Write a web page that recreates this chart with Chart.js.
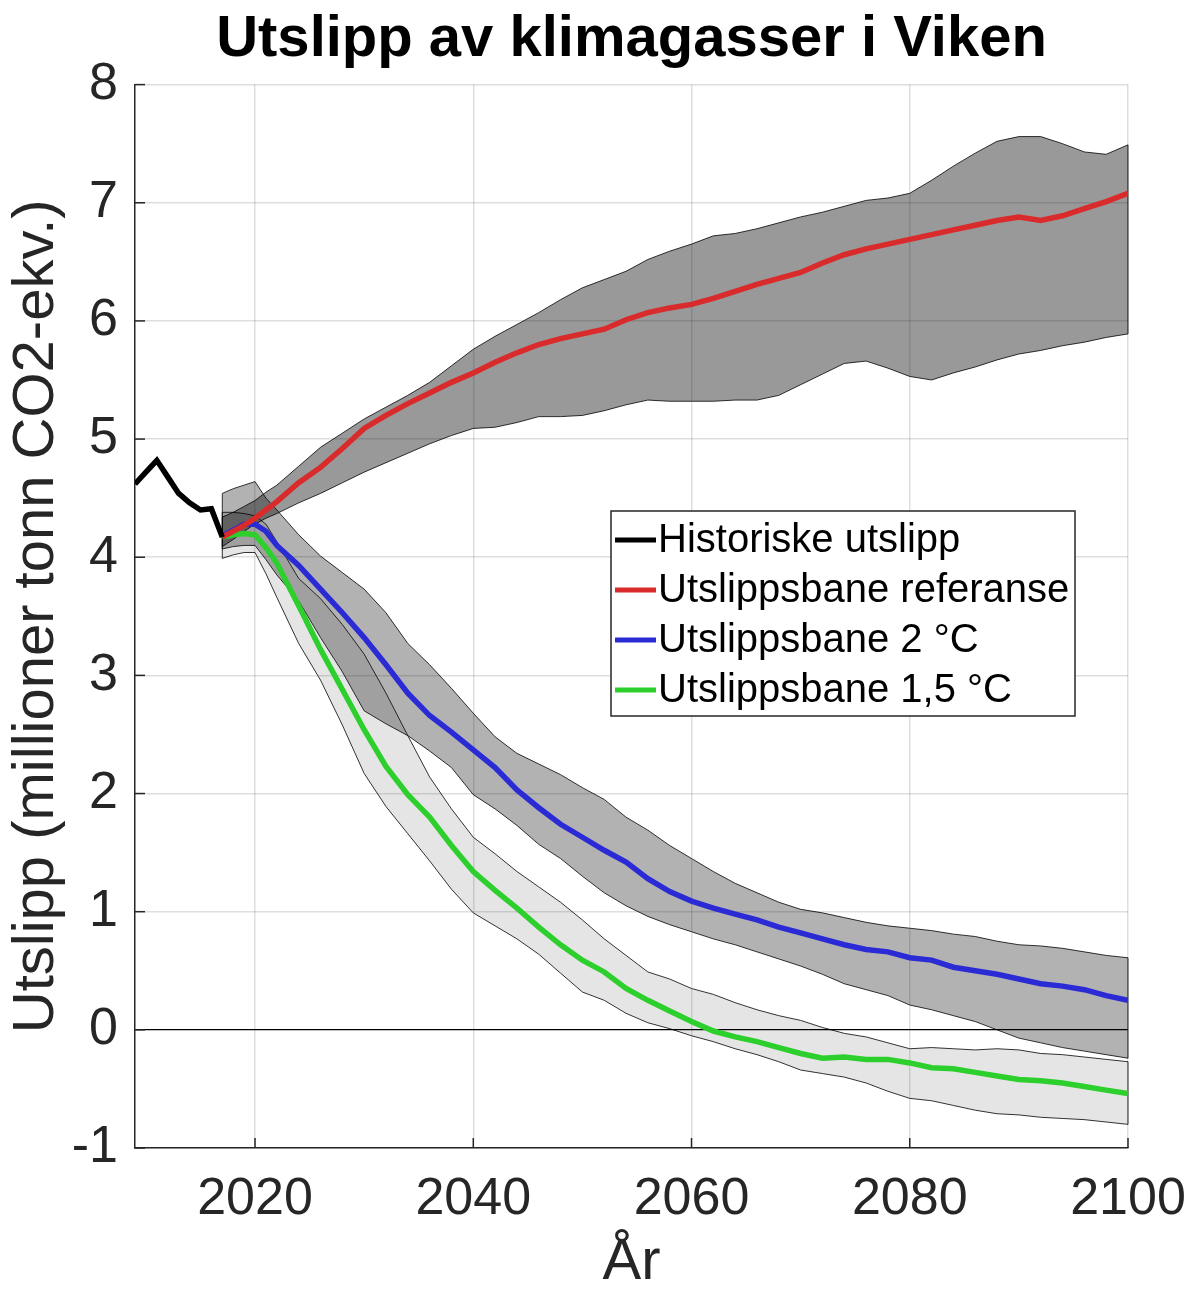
<!DOCTYPE html>
<html>
<head>
<meta charset="utf-8">
<title>Utslipp av klimagasser i Viken</title>
<script src="https://cdn.jsdelivr.net/npm/chart.js@4.4.1/dist/chart.umd.min.js"></script>
<style>
  html, body { margin: 0; padding: 0; background: #fff; }
  #wrap { width: 1188px; height: 1289px; }
</style>
</head>
<body>
<div id="wrap"><canvas id="chart" width="1188" height="1289"></canvas></div>
<script>
// historical emissions (mill. tonn CO2-ekv.)
const histYears = [2009, 2010, 2011, 2012, 2013, 2014, 2015, 2016, 2017];
const histValues = [4.62, 4.72, 4.82, 4.68, 4.54, 4.46, 4.40, 4.41, 4.17];

// years shared by all scenario series
const projYears = [2017, 2018, 2019, 2020, 2021, 2022, 2024, 2026, 2028, 2030, 2032, 2034, 2036, 2038,
  2040, 2042, 2044, 2046, 2048, 2050, 2052, 2054, 2056, 2058, 2060, 2062, 2064, 2066, 2068, 2070,
  2072, 2074, 2076, 2078, 2080, 2082, 2084, 2086, 2088, 2090, 2092, 2094, 2096, 2098, 2100];

// reference path
const refMid = [4.17, 4.22, 4.27, 4.33, 4.40, 4.47, 4.63, 4.76, 4.92, 5.09, 5.20, 5.30, 5.39, 5.48,
  5.56, 5.65, 5.73, 5.80, 5.85, 5.89, 5.93, 6.01, 6.07, 6.11, 6.14, 6.19, 6.25, 6.31, 6.36, 6.41,
  6.49, 6.56, 6.61, 6.65, 6.69, 6.73, 6.77, 6.81, 6.85, 6.88, 6.85, 6.89, 6.95, 7.01, 7.08];
const refHigh = [4.34, 4.38, 4.43, 4.48, 4.55, 4.61, 4.77, 4.93, 5.05, 5.17, 5.27, 5.37, 5.48, 5.62,
  5.76, 5.87, 5.97, 6.07, 6.18, 6.28, 6.35, 6.42, 6.52, 6.59, 6.65, 6.72, 6.74, 6.78, 6.83, 6.88,
  6.92, 6.97, 7.02, 7.04, 7.08, 7.19, 7.31, 7.42, 7.52, 7.56, 7.56, 7.50, 7.43, 7.41, 7.49];
const refLow = [4.09, 4.15, 4.22, 4.28, 4.33, 4.37, 4.46, 4.54, 4.63, 4.72, 4.80, 4.88, 4.96, 5.03,
  5.09, 5.10, 5.14, 5.19, 5.19, 5.20, 5.24, 5.29, 5.33, 5.32, 5.32, 5.32, 5.33, 5.33, 5.37, 5.46,
  5.55, 5.64, 5.66, 5.60, 5.53, 5.50, 5.56, 5.61, 5.67, 5.72, 5.75, 5.79, 5.82, 5.86, 5.89];

// 2 °C path
const twoMid = [4.18, 4.23, 4.28, 4.28, 4.22, 4.10, 3.93, 3.73, 3.53, 3.32, 3.09, 2.85, 2.66, 2.52,
  2.37, 2.22, 2.03, 1.88, 1.74, 1.63, 1.52, 1.42, 1.28, 1.17, 1.09, 1.03, 0.98, 0.93, 0.87, 0.82,
  0.77, 0.72, 0.68, 0.66, 0.61, 0.59, 0.53, 0.50, 0.47, 0.43, 0.39, 0.37, 0.34, 0.29, 0.25];
const twoHigh = [4.54, 4.58, 4.61, 4.64, 4.50, 4.40, 4.19, 4.01, 3.87, 3.73, 3.53, 3.27, 3.09, 2.89,
  2.68, 2.48, 2.34, 2.25, 2.16, 2.05, 1.95, 1.80, 1.69, 1.56, 1.45, 1.34, 1.24, 1.16, 1.08, 1.02,
  0.99, 0.95, 0.91, 0.88, 0.86, 0.84, 0.81, 0.79, 0.75, 0.72, 0.71, 0.69, 0.66, 0.63, 0.61];
const twoLow = [4.07, 4.09, 4.10, 4.10, 3.98, 3.85, 3.63, 3.32, 3.03, 2.70, 2.59, 2.49, 2.36, 2.22,
  1.99, 1.87, 1.73, 1.57, 1.45, 1.30, 1.16, 1.05, 0.96, 0.89, 0.83, 0.77, 0.72, 0.66, 0.60, 0.54,
  0.47, 0.39, 0.34, 0.29, 0.21, 0.17, 0.12, 0.07, 0.00, -0.07, -0.11, -0.15, -0.18, -0.21, -0.24];

// 1,5 °C path
const oneMid = [4.17, 4.19, 4.20, 4.19, 4.08, 3.95, 3.59, 3.22, 2.88, 2.54, 2.23, 1.99, 1.80, 1.56,
  1.34, 1.18, 1.03, 0.87, 0.72, 0.59, 0.49, 0.35, 0.25, 0.16, 0.07, -0.01, -0.06, -0.10, -0.15, -0.20,
  -0.24, -0.23, -0.25, -0.25, -0.28, -0.32, -0.33, -0.36, -0.39, -0.42, -0.43, -0.45, -0.48, -0.51, -0.54];
const oneHigh = [4.38, 4.38, 4.37, 4.35, 4.28, 4.13, 3.82, 3.65, 3.43, 3.18, 2.85, 2.49, 2.14, 1.87,
  1.63, 1.49, 1.34, 1.21, 1.08, 0.93, 0.77, 0.63, 0.49, 0.43, 0.35, 0.30, 0.23, 0.17, 0.12, 0.08,
  0.02, -0.03, -0.06, -0.11, -0.16, -0.15, -0.16, -0.17, -0.16, -0.17, -0.20, -0.21, -0.23, -0.25, -0.27];
const oneLow = [3.99, 4.02, 4.04, 4.04, 3.86, 3.66, 3.27, 2.96, 2.58, 2.17, 1.89, 1.66, 1.43, 1.19,
  0.99, 0.88, 0.77, 0.64, 0.48, 0.32, 0.25, 0.14, 0.06, 0.01, -0.05, -0.10, -0.16, -0.21, -0.27, -0.34,
  -0.37, -0.40, -0.45, -0.52, -0.58, -0.60, -0.64, -0.68, -0.71, -0.72, -0.74, -0.75, -0.76, -0.78, -0.80];

const xTickValues = [2020, 2040, 2060, 2080, 2100];
const yTickValues = [-1, 0, 1, 2, 3, 4, 5, 6, 7, 8];

const FONT = '"Liberation Sans", Arial, sans-serif';
const AXIS_COLOR = '#262626';
const EDGE = 'rgba(0, 0, 0, 0.8)';

const pts = (xs, ys) => xs.map((x, i) => ({ x: x, y: ys[i] }));

function line(label, xs, ys, color, order) {
  return {
    label: label, data: pts(xs, ys), borderColor: color, backgroundColor: color,
    borderWidth: 5.5, pointRadius: 0, fill: false, tension: 0, order: order, legend: true
  };
}
function edge(ys, fillTo, shade) {
  return {
    data: pts(projYears, ys), borderColor: EDGE, borderWidth: 1, pointRadius: 0, tension: 0,
    fill: fillTo, backgroundColor: shade || 'transparent', order: 10
  };
}

const datasets = [
  line('Historiske utslipp', histYears, histValues, '#000000', 1),
  line('Utslippsbane referanse', projYears, refMid, '#d92b2b', 2),
  line('Utslippsbane 2 °C', projYears, twoMid, '#2b2bd6', 3),
  line('Utslippsbane 1,5 °C', projYears, oneMid, '#2ccf2c', 4),
  edge(refHigh, '+1', 'rgba(0, 0, 0, 0.4)'),
  edge(refLow, false),
  edge(twoHigh, '+1', 'rgba(0, 0, 0, 0.3)'),
  edge(twoLow, false),
  edge(oneHigh, '+1', 'rgba(0, 0, 0, 0.1)'),
  edge(oneLow, false)
];
const bandPairs = [[4, 5], [6, 7], [8, 9]];

// closes the bands at their first and last year
const bandEnds = {
  id: 'bandEnds',
  beforeDatasetsDraw(chart) {
    const { ctx, scales: { x, y } } = chart;
    ctx.save();
    ctx.strokeStyle = EDGE;
    ctx.lineWidth = 1;
    bandPairs.forEach(([hi, lo]) => {
      const a = chart.data.datasets[hi].data, b = chart.data.datasets[lo].data;
      [0, a.length - 1].forEach(i => {
        const px = x.getPixelForValue(a[i].x);
        ctx.beginPath();
        ctx.moveTo(px, y.getPixelForValue(a[i].y));
        ctx.lineTo(px, y.getPixelForValue(b[i].y));
        ctx.stroke();
      });
    });
    ctx.restore();
  }
};

// inward tick marks and the legend box inside the axes
const axesExtras = {
  id: 'axesExtras',
  afterDraw(chart) {
    const { ctx, chartArea: a, scales: { x, y } } = chart;
    ctx.save();
    ctx.strokeStyle = AXIS_COLOR;
    ctx.lineWidth = 1.5;
    xTickValues.forEach(v => {
      const px = x.getPixelForValue(v);
      ctx.beginPath(); ctx.moveTo(px, a.bottom); ctx.lineTo(px, a.bottom - 10); ctx.stroke();
    });
    yTickValues.forEach(v => {
      const py = y.getPixelForValue(v);
      ctx.beginPath(); ctx.moveTo(a.left, py); ctx.lineTo(a.left + 10, py); ctx.stroke();
    });

    const box = { left: 611, top: 511, right: 1075, bottom: 716 };
    ctx.fillStyle = '#ffffff';
    ctx.fillRect(box.left, box.top, box.right - box.left, box.bottom - box.top);
    ctx.strokeStyle = AXIS_COLOR;
    ctx.lineWidth = 1.5;
    ctx.strokeRect(box.left, box.top, box.right - box.left, box.bottom - box.top);
    ctx.font = '40px ' + FONT;
    ctx.textBaseline = 'middle';
    ctx.textAlign = 'left';
    chart.data.datasets.filter(d => d.legend).forEach((d, i) => {
      const cy = box.top + 29 + i * 50;
      ctx.strokeStyle = d.borderColor;
      ctx.lineWidth = 5;
      ctx.beginPath(); ctx.moveTo(box.left + 4, cy); ctx.lineTo(box.left + 45, cy); ctx.stroke();
      ctx.fillStyle = '#000000';
      ctx.fillText(d.label, box.left + 47, cy + 1);
    });
    ctx.restore();
  }
};

new Chart(document.getElementById('chart'), {
  type: 'line',
  data: { datasets: datasets },
  plugins: [bandEnds, axesExtras],
  options: {
    responsive: false,
    animation: false,
    devicePixelRatio: 1,
    layout: { padding: { left: 0, right: 60, top: 0, bottom: 0 } },
    plugins: {
      legend: { display: false },
      tooltip: { enabled: false },
      filler: { drawTime: 'beforeDatasetsDraw' },
      title: {
        display: true,
        text: 'Utslipp av klimagasser i Viken',
        fullSize: false,
        color: '#000000',
        font: { family: FONT, size: 58, weight: 'bold', lineHeight: 1.2 },
        padding: { top: 5, bottom: 10 }
      }
    },
    scales: {
      x: {
        type: 'linear',
        min: 2009,
        max: 2100,
        afterFit: s => { s.height = 141; s.paddingLeft = 0; s.paddingRight = 0; },
        afterBuildTicks: s => { s.ticks = xTickValues.map(v => ({ value: v })); },
        ticks: {
          color: AXIS_COLOR, padding: 20, maxRotation: 0, autoSkip: false,
          font: { family: FONT, size: 52 },
          callback: v => String(v)
        },
        grid: { color: 'rgba(0, 0, 0, 0.13)', lineWidth: 1.5, drawTicks: false },
        border: { display: true, color: AXIS_COLOR, width: 1.5 },
        title: {
          display: true, text: 'År', color: AXIS_COLOR,
          font: { family: FONT, size: 58, lineHeight: 0.9 }, padding: { top: 0, bottom: 0 }
        }
      },
      y: {
        type: 'linear',
        min: -1,
        max: 8,
        afterFit: s => { s.width = 135; s.paddingTop = 0; s.paddingBottom = 0; },
        afterBuildTicks: s => { s.ticks = yTickValues.map(v => ({ value: v })); },
        ticks: {
          color: AXIS_COLOR, padding: 17, autoSkip: false,
          font: { family: FONT, size: 52 },
          callback: v => String(v)
        },
        grid: {
          color: c => (c.tick && c.tick.value === 0) ? '#000000' : 'rgba(0, 0, 0, 0.13)',
          lineWidth: c => (c.tick && c.tick.value === 0) ? 1.2 : 1.5,
          drawTicks: false
        },
        border: { display: true, color: AXIS_COLOR, width: 1.5 },
        title: {
          display: true, text: 'Utslipp (millioner tonn CO2-ekv.)', color: AXIS_COLOR,
          font: { family: FONT, size: 58, lineHeight: 1 }, padding: { top: 8, bottom: 0 }
        }
      }
    }
  }
});
</script>
</body>
</html>
